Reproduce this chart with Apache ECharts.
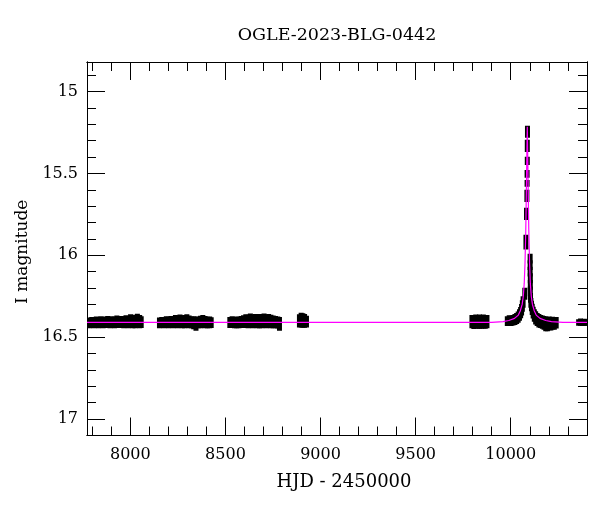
<!DOCTYPE html>
<html>
<head>
<meta charset="utf-8">
<title>OGLE-2023-BLG-0442</title>
<script src="https://cdn.jsdelivr.net/npm/echarts@6/dist/echarts.min.js"></script>
<style>
  html, body { margin: 0; padding: 0; background: #fff; }
  #chart { width: 600px; height: 512px; }
</style>
</head>
<body>
<div id="chart"></div>
<script>
// photometry: [HJD - 2450000, I magnitude, error]
const season1 = [
  [7785, 16.412, 0.033], [7797, 16.410, 0.034], [7809, 16.413, 0.032], [7821, 16.409, 0.035],
  [7833, 16.411, 0.034], [7845, 16.408, 0.036], [7857, 16.412, 0.033], [7869, 16.409, 0.035],
  [7881, 16.407, 0.037], [7893, 16.411, 0.034], [7905, 16.408, 0.036], [7917, 16.410, 0.035],
  [7929, 16.406, 0.038], [7941, 16.410, 0.034], [7953, 16.407, 0.037], [7965, 16.409, 0.036],
  [7977, 16.405, 0.039], [7989, 16.408, 0.037], [8001, 16.402, 0.042], [8013, 16.407, 0.038],
  [8025, 16.404, 0.041], [8037, 16.400, 0.043], [8049, 16.405, 0.040], [8057, 16.408, 0.036]
];
const season2 = [
  [8153, 16.412, 0.033], [8165, 16.410, 0.034], [8177, 16.411, 0.035], [8189, 16.408, 0.036],
  [8201, 16.410, 0.035], [8213, 16.407, 0.037], [8225, 16.409, 0.036], [8237, 16.404, 0.040],
  [8249, 16.406, 0.039], [8261, 16.403, 0.041], [8273, 16.407, 0.038], [8285, 16.405, 0.040],
  [8297, 16.402, 0.042], [8309, 16.406, 0.039], [8321, 16.409, 0.036], [8333, 16.412, 0.040],
  [8345, 16.418, 0.043], [8357, 16.410, 0.036], [8369, 16.407, 0.038], [8381, 16.404, 0.040],
  [8393, 16.408, 0.037], [8405, 16.410, 0.035], [8417, 16.409, 0.036], [8425, 16.411, 0.033]
];
const season3 = [
  [8523, 16.410, 0.034], [8535, 16.408, 0.036], [8547, 16.411, 0.035], [8559, 16.409, 0.036],
  [8571, 16.410, 0.035], [8583, 16.407, 0.037], [8595, 16.405, 0.039], [8607, 16.402, 0.042],
  [8619, 16.404, 0.041], [8631, 16.400, 0.044], [8643, 16.404, 0.041], [8655, 16.401, 0.043],
  [8667, 16.405, 0.040], [8679, 16.402, 0.043], [8691, 16.404, 0.041], [8703, 16.400, 0.044],
  [8715, 16.403, 0.042], [8727, 16.401, 0.043], [8739, 16.404, 0.041], [8751, 16.406, 0.039],
  [8763, 16.408, 0.038], [8775, 16.410, 0.037], [8784, 16.418, 0.042]
];
const season4 = [
  [8889, 16.400, 0.040], [8898, 16.395, 0.045], [8907, 16.398, 0.044], [8916, 16.400, 0.042],
  [8926, 16.405, 0.036]
];
const season5 = [
  [9796, 16.405, 0.040], [9806, 16.408, 0.042], [9816, 16.404, 0.043], [9826, 16.407, 0.042],
  [9836, 16.405, 0.044], [9846, 16.408, 0.041], [9856, 16.404, 0.043], [9866, 16.407, 0.042],
  [9875, 16.405, 0.040]
];
const season6 = [
  [9982, 16.402, 0.030], [9992, 16.398, 0.032], [10002, 16.400, 0.031], [10012, 16.396, 0.032],
  [10022, 16.392, 0.033], [10031, 16.386, 0.034], [10039, 16.377, 0.034], [10046, 16.365, 0.035],
  [10052, 16.350, 0.035], [10057, 16.332, 0.035], [10061, 16.310, 0.035], [10065, 16.285, 0.035],
  [10074, 16.235, 0.037], [10080, 15.920, 0.045], [10083, 15.747, 0.037], [10085, 15.637, 0.037],
  [10086, 15.561, 0.021], [10086, 15.503, 0.024], [10087, 15.424, 0.025], [10087, 15.332, 0.037],
  [10088, 15.246, 0.037],
  [10102, 16.020, 0.030], [10102, 16.060, 0.030], [10102, 16.100, 0.030], [10103, 16.140, 0.030],
  [10103, 16.180, 0.030], [10103, 16.220, 0.030], [10104, 16.260, 0.030], [10106, 16.290, 0.030],
  [10109, 16.310, 0.032], [10113, 16.330, 0.034], [10118, 16.350, 0.036], [10124, 16.368, 0.038],
  [10131, 16.382, 0.040], [10139, 16.392, 0.040], [10148, 16.400, 0.041], [10157, 16.404, 0.040],
  [10166, 16.408, 0.041], [10175, 16.412, 0.042], [10184, 16.418, 0.045], [10193, 16.420, 0.044],
  [10202, 16.415, 0.042], [10211, 16.418, 0.041], [10220, 16.414, 0.039], [10229, 16.416, 0.038],
  [10239, 16.412, 0.035]
];
const season7 = [
  [10357, 16.410, 0.020], [10367, 16.408, 0.022], [10377, 16.411, 0.021], [10387, 16.409, 0.022],
  [10397, 16.410, 0.020]
];

// model light curve: [HJD - 2450000, I magnitude]
const modelCurve = [
  [7772, 16.41], [9900, 16.41], [9960, 16.405], [9990, 16.398], [10020, 16.385], [10040, 16.365],
  [10050, 16.34], [10060, 16.30], [10066, 16.25], [10071, 16.17], [10075, 16.05], [10079, 15.85],
  [10082, 15.62], [10084, 15.45], [10086, 15.28], [10087, 15.215], [10088, 15.28], [10090, 15.45],
  [10092, 15.62], [10095, 15.85], [10099, 16.05], [10103, 16.17], [10108, 16.25], [10114, 16.30],
  [10124, 16.34], [10134, 16.365], [10154, 16.385], [10184, 16.398], [10214, 16.405], [10274, 16.41],
  [10401, 16.41]
];

const xMajorTicks = [8000, 8500, 9000, 9500, 10000];
const xMinorTicks = [7800, 7900, 8100, 8200, 8300, 8400, 8600, 8700, 8800, 8900, 9100, 9200,
  9300, 9400, 9600, 9700, 9800, 9900, 10100, 10200, 10300];
const yMajorTicks = [15, 15.5, 16, 16.5, 17];
const yMinorTicks = [14.9, 15.1, 15.2, 15.3, 15.4, 15.6, 15.7, 15.8, 15.9, 16.1, 16.2, 16.3,
  16.4, 16.6, 16.7, 16.8, 16.9, 17.1];

const font = 'DejaVu Serif';
const xMin = 7772, xMax = 10401;
const yMin = 14.82, yMax = 17.1;

const chart = echarts.init(document.getElementById('chart'));

const plainNumber = function (value) {
  return String(value);
};

function xAxisDef(position, ticks, len, showLabels) {
  return {
    type: 'value', position: position, min: xMin, max: xMax,
    axisLine: { show: true, onZero: false, lineStyle: { color: '#000', width: 1 } },
    axisTick: { show: true, inside: true, length: len, customValues: ticks, lineStyle: { color: '#000', width: 1 } },
    axisLabel: showLabels
      ? { show: true, customValues: ticks, formatter: plainNumber, margin: 11, fontSize: 16, fontFamily: font, color: '#000' }
      : { show: false },
    splitLine: { show: false }
  };
}

function yAxisDef(position, ticks, len, showLabels) {
  return {
    type: 'value', position: position, min: yMin, max: yMax, inverse: true,
    axisLine: { show: true, onZero: false, lineStyle: { color: '#000', width: 1 } },
    axisTick: { show: true, inside: true, length: len, customValues: ticks, lineStyle: { color: '#000', width: 1 } },
    axisLabel: showLabels
      ? { show: true, customValues: ticks, formatter: plainNumber, margin: 9, fontSize: 16, fontFamily: font, color: '#000' }
      : { show: false },
    splitLine: { show: false }
  };
}

const xAxes = [
  xAxisDef('bottom', xMajorTicks, 18, true),
  xAxisDef('bottom', xMinorTicks, 9, false),
  xAxisDef('top', xMajorTicks, 18, false),
  xAxisDef('top', xMinorTicks, 9, false)
];
xAxes[0].name = 'HJD - 2450000';
xAxes[0].nameLocation = 'middle';
xAxes[0].nameGap = 38;
xAxes[0].nameTextStyle = { fontSize: 18, fontFamily: font, color: '#000', padding: [0, 0, 0, 14] };

const yAxes = [
  yAxisDef('left', yMajorTicks, 18, true),
  yAxisDef('left', yMinorTicks, 9, false),
  yAxisDef('right', yMajorTicks, 18, false),
  yAxisDef('right', yMinorTicks, 9, false)
];
yAxes[0].name = 'I magnitude';
yAxes[0].nameLocation = 'middle';
yAxes[0].nameRotate = 90;
yAxes[0].nameGap = 51;
yAxes[0].nameTextStyle = { fontSize: 17, fontFamily: font, color: '#000', padding: [0, 6, 0, 0] };

const photometry = season1.concat(season2, season3, season4, season5, season6, season7);

const renderPoint = function (params, api) {
  const x = api.value(0), m = api.value(1), e = api.value(2);
  const p1 = api.coord([x, m - e]);
  const p2 = api.coord([x, m + e]);
  const top = Math.min(p1[1], p2[1]);
  const h = Math.max(Math.abs(p2[1] - p1[1]), 3);
  return {
    type: 'rect',
    shape: { x: p1[0] - 2.5, y: top, width: 5, height: h },
    style: { fill: '#000' }
  };
};

const option = {
  animation: false,
  backgroundColor: '#fff',
  title: {
    text: 'OGLE-2023-BLG-0442',
    left: 337, top: 26, textAlign: 'center', padding: 0,
    textStyle: { fontSize: 17.5, fontWeight: 'normal', fontFamily: font, color: '#000' }
  },
  grid: { left: 87, right: 13, top: 62, bottom: 76.5, containLabel: false },
  xAxis: xAxes,
  yAxis: yAxes,
  series: [
    {
      name: 'OGLE',
      type: 'custom',
      xAxisIndex: 0, yAxisIndex: 0,
      data: photometry,
      encode: { x: 0, y: 1 },
      clip: true,
      silent: true,
      z: 2,
      renderItem: renderPoint
    },
    {
      name: 'model',
      type: 'line',
      xAxisIndex: 0, yAxisIndex: 0,
      data: modelCurve,
      symbol: 'none',
      clip: true,
      silent: true,
      z: 3,
      lineStyle: { color: '#ff00ff', width: 1.2 }
    }
  ]
};

chart.setOption(option);
</script>
</body>
</html>
